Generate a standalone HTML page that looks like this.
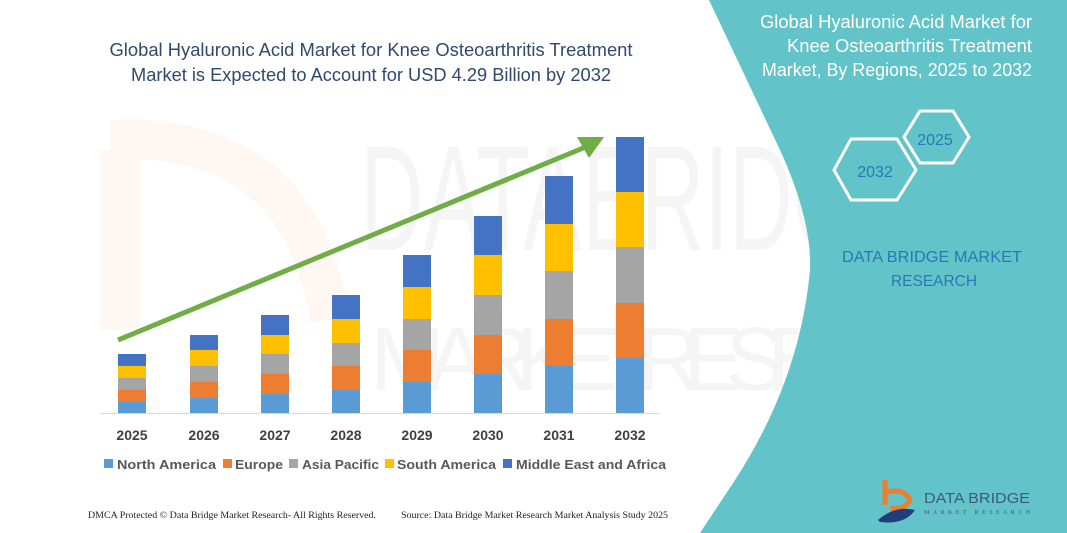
<!DOCTYPE html>
<html><head><meta charset="utf-8"><style>
html,body{margin:0;padding:0;background:#fff;}
svg{display:block;}
</style></head><body>
<svg width="1067" height="533" viewBox="0 0 1067 533" xmlns="http://www.w3.org/2000/svg">
<rect width="1067" height="533" fill="#fff"/>
<g opacity="0.05" font-family="Liberation Sans, sans-serif" fill="#555">
<text x="360" y="250" font-size="150" textLength="560" lengthAdjust="spacingAndGlyphs">DATABRIDGE</text>
<text x="370" y="390" font-size="90" textLength="640" lengthAdjust="spacing">MARKETRESEARCH</text>
</g>
<path d="M120,150 L120,330 M110,140 Q300,130 330,320" stroke="#f4b183" stroke-width="40" fill="none" opacity="0.1"/>
<path d="M709,0 L1067,0 L1067,533 L700,533 L735,480 Q800,380 810,270 Q812,220 780,150 Z" fill="#62c4c9"/>
<g font-family="Liberation Sans, sans-serif" font-size="18" fill="#fff" text-anchor="end">
<text x="1032" y="28" textLength="272" lengthAdjust="spacingAndGlyphs">Global Hyaluronic Acid Market for</text>
<text x="1032" y="52" textLength="245" lengthAdjust="spacingAndGlyphs">Knee Osteoarthritis Treatment</text>
<text x="1032" y="76" textLength="270" lengthAdjust="spacingAndGlyphs">Market, By Regions, 2025 to 2032</text>
</g>
<polygon points="904,137 920,111 953,111 969,137 953,163 920,163" fill="none" stroke="#fff" stroke-width="3"/>
<polygon points="834,170 851,139 897,139 916,170 897,200 851,200" fill="none" stroke="#fff" stroke-width="3"/>
<g font-family="Liberation Sans, sans-serif" font-size="16" fill="#2e75b6" text-anchor="middle">
<text x="935" y="145">2025</text>
<text x="875" y="177">2032</text>
</g>
<g font-family="Liberation Sans, sans-serif" font-size="16" fill="#2e75b6" text-anchor="middle">
<text x="932" y="262" textLength="180" lengthAdjust="spacingAndGlyphs">DATA BRIDGE MARKET</text>
<text x="934" y="286" textLength="86" lengthAdjust="spacingAndGlyphs">RESEARCH</text>
</g>
<path d="M885,480 L885,505" stroke="#ed7d31" stroke-width="5"/>
<path d="M887,492 Q905,488 910,500 Q905,510 890,508" fill="none" stroke="#ed7d31" stroke-width="5"/>
<path d="M878,520 Q895,505 915,510 Q905,525 880,522 Z" fill="#1f3f7a"/>
<text x="924" y="503" font-family="Liberation Sans, sans-serif" font-size="15" fill="#3d5a80" textLength="106" lengthAdjust="spacingAndGlyphs">DATA BRIDGE</text>
<text x="924" y="514" font-family="Liberation Serif, serif" font-size="6" fill="#3d5a80" textLength="106" lengthAdjust="spacing">MARKET RESEARCH</text>
<g font-family="Liberation Sans, sans-serif" font-size="18" fill="#2f4a6e" text-anchor="middle">
<text x="371" y="56" textLength="523" lengthAdjust="spacingAndGlyphs">Global Hyaluronic Acid Market for Knee Osteoarthritis Treatment</text>
<text x="371" y="81" textLength="480" lengthAdjust="spacingAndGlyphs">Market is Expected to Account for USD 4.29 Billion by 2032</text>
</g>
<line x1="100" y1="413.5" x2="660" y2="413.5" stroke="#d9d9d9" stroke-width="1"/>
<g>
<rect x="118" y="402" width="28" height="11" fill="#5b9bd5"/><rect x="118" y="390" width="28" height="12" fill="#ed7d31"/><rect x="118" y="378" width="28" height="12" fill="#a5a5a5"/><rect x="118" y="366" width="28" height="12" fill="#ffc000"/><rect x="118" y="354" width="28" height="12" fill="#4472c4"/>
<rect x="190" y="398" width="28" height="15" fill="#5b9bd5"/><rect x="190" y="382" width="28" height="16" fill="#ed7d31"/><rect x="190" y="366" width="28" height="16" fill="#a5a5a5"/><rect x="190" y="350" width="28" height="16" fill="#ffc000"/><rect x="190" y="335" width="28" height="15" fill="#4472c4"/>
<rect x="261" y="394" width="28" height="19" fill="#5b9bd5"/><rect x="261" y="374" width="28" height="20" fill="#ed7d31"/><rect x="261" y="354" width="28" height="20" fill="#a5a5a5"/><rect x="261" y="335" width="28" height="19" fill="#ffc000"/><rect x="261" y="315" width="28" height="20" fill="#4472c4"/>
<rect x="332" y="390" width="28" height="23" fill="#5b9bd5"/><rect x="332" y="366" width="28" height="24" fill="#ed7d31"/><rect x="332" y="343" width="28" height="23" fill="#a5a5a5"/><rect x="332" y="319" width="28" height="24" fill="#ffc000"/><rect x="332" y="295" width="28" height="24" fill="#4472c4"/>
<rect x="403" y="382" width="28" height="31" fill="#5b9bd5"/><rect x="403" y="350" width="28" height="32" fill="#ed7d31"/><rect x="403" y="319" width="28" height="31" fill="#a5a5a5"/><rect x="403" y="287" width="28" height="32" fill="#ffc000"/><rect x="403" y="255" width="28" height="32" fill="#4472c4"/>
<rect x="474" y="374" width="28" height="39" fill="#5b9bd5"/><rect x="474" y="335" width="28" height="39" fill="#ed7d31"/><rect x="474" y="295" width="28" height="40" fill="#a5a5a5"/><rect x="474" y="255" width="28" height="40" fill="#ffc000"/><rect x="474" y="216" width="28" height="39" fill="#4472c4"/>
<rect x="545" y="366" width="28" height="47" fill="#5b9bd5"/><rect x="545" y="319" width="28" height="47" fill="#ed7d31"/><rect x="545" y="271" width="28" height="48" fill="#a5a5a5"/><rect x="545" y="224" width="28" height="47" fill="#ffc000"/><rect x="545" y="176" width="28" height="48" fill="#4472c4"/>
<rect x="616" y="358" width="28" height="55" fill="#5b9bd5"/><rect x="616" y="303" width="28" height="55" fill="#ed7d31"/><rect x="616" y="247" width="28" height="56" fill="#a5a5a5"/><rect x="616" y="192" width="28" height="55" fill="#ffc000"/><rect x="616" y="137" width="28" height="55" fill="#4472c4"/>
</g>
<line x1="118" y1="340" x2="588" y2="146" stroke="#70ad47" stroke-width="5"/>
<polygon points="604,137 577,137 589,158" fill="#70ad47"/>
<g font-family="Liberation Sans, sans-serif" font-size="14" font-weight="bold" fill="#404040" text-anchor="middle">
<text x="132" y="440">2025</text><text x="204" y="440">2026</text><text x="275" y="440">2027</text><text x="346" y="440">2028</text>
<text x="417" y="440">2029</text><text x="488" y="440">2030</text><text x="559" y="440">2031</text><text x="630" y="440">2032</text>
</g>
<g font-family="Liberation Sans, sans-serif" font-size="13" font-weight="bold" fill="#595959">
<rect x="104" y="459" width="9" height="9" fill="#5b9bd5"/><text x="117" y="469" textLength="99" lengthAdjust="spacingAndGlyphs">North America</text>
<rect x="223" y="459" width="9" height="9" fill="#ed7d31"/><text x="235" y="469" textLength="48" lengthAdjust="spacingAndGlyphs">Europe</text>
<rect x="289" y="459" width="9" height="9" fill="#a5a5a5"/><text x="302" y="469" textLength="77" lengthAdjust="spacingAndGlyphs">Asia Pacific</text>
<rect x="385" y="459" width="9" height="9" fill="#ffc000"/><text x="397" y="469" textLength="99" lengthAdjust="spacingAndGlyphs">South America</text>
<rect x="503" y="459" width="9" height="9" fill="#4472c4"/><text x="516" y="469" textLength="150" lengthAdjust="spacingAndGlyphs">Middle East and Africa</text>
</g>
<g font-family="Liberation Serif, serif" font-size="9.5" fill="#222">
<text x="88" y="518" textLength="288" lengthAdjust="spacingAndGlyphs">DMCA Protected © Data Bridge Market Research-  All Rights Reserved.</text>
<text x="401" y="518" textLength="267" lengthAdjust="spacingAndGlyphs">Source:  Data Bridge Market Research  Market Analysis Study 2025</text>
</g>
</svg>
</body></html>
